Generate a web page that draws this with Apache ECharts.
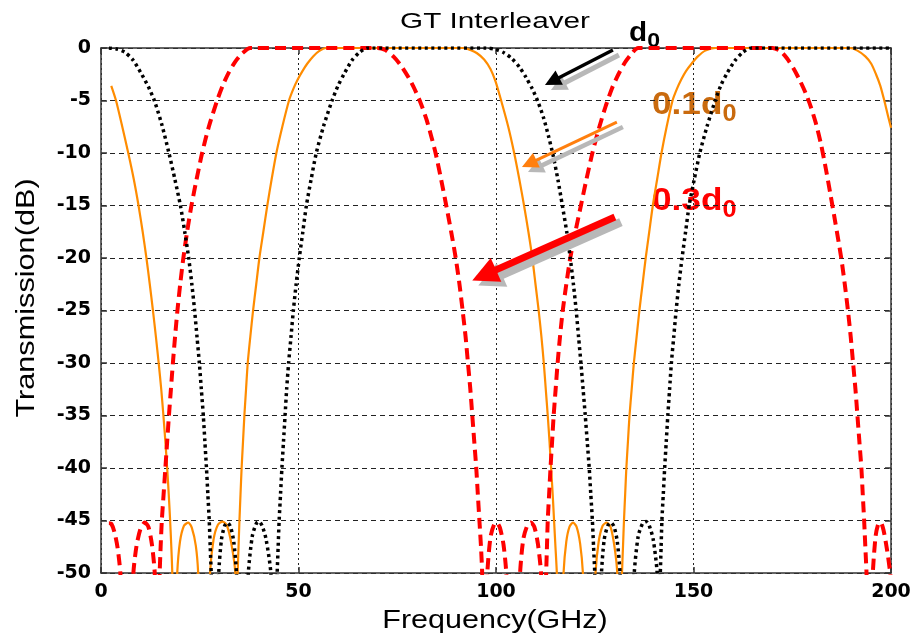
<!DOCTYPE html>
<html><head><meta charset="utf-8">
<script src="https://cdn.jsdelivr.net/npm/echarts@6/dist/echarts.min.js"></script>
<style>html,body{margin:0;padding:0;background:#fff}#c{width:917px;height:642px}</style>
</head><body><div id="c"></div>
<script>
// Frequency (GHz), Transmission (dB). Values below -50 are clipped by the axis.
const d0Data = [[2,0],[4,-0.1],[6,-0.4],[8,-1.1],[10,-2.3],[12,-3.7],[13.5,-5],[15.4,-7.3],[17.2,-10],[18.7,-12.5],[20.1,-15],[21.2,-17.5],[22.2,-20],[23,-22.5],[23.7,-25],[24.3,-27.5],[24.9,-30],[25.4,-32.5],[25.9,-35],[26.3,-37.5],[26.7,-40],[27.05,-42.5],[27.4,-45],[27.65,-47.5],[27.9,-50],[28.3,-56],
[29.3,-56],[29.8,-50],[30.5,-46.8],[31.3,-45.5],[32,-45.2],[32.8,-45.6],[33.6,-47],[34.3,-50],[34.8,-56],
[36.8,-56],[37.3,-50],[38.3,-46.5],[39.3,-45.3],[40,-45.1],[40.8,-45.5],[41.8,-46.8],[43,-50],[43.5,-56],
[44.2,-56],[44.6,-50],[44.85,-47.5],[45.1,-45],[45.45,-42.5],[45.8,-40],[46.2,-37.5],[46.6,-35],[47,-32.5],[47.5,-30],[48.1,-27.5],[48.7,-25],[49.4,-22.5],[50.2,-20],[51.1,-17.5],[52,-15],[53.2,-12.5],[54.5,-10],[56.3,-7.5],[58.5,-5],[60,-3.6],[61.5,-2.5],[63.5,-1.2],[65.5,-0.4],[67.5,0],
[97.5,0],[100,-0.15],[102,-0.45],[104,-1],[106,-1.85],[107.6,-2.8],[109.2,-3.9],[110.6,-5.1],[112,-6.6],[113.3,-8.4],[114.5,-10.3],[115.7,-12.6],[116.8,-15],[117.9,-17.5],[118.8,-20],[119.6,-22.5],[120.3,-25],[120.9,-27.5],[121.5,-30],[122.05,-32.5],[122.6,-35],[123.1,-37.5],[123.6,-40],[124,-42.5],[124.4,-45],[124.7,-47.5],[125,-50],[125.4,-56],
[126.2,-56],[126.7,-50],[127.4,-46.8],[128.3,-45.5],[129.1,-45.2],[129.9,-45.6],[130.7,-47],[131.4,-50],[131.9,-56],
[134.5,-56],[135,-50],[136,-46.5],[137.1,-45.3],[138,-45.1],[138.8,-45.5],[139.8,-46.8],[140.8,-50],[141.2,-56],
[141.6,-50],[141.8,-47.5],[142,-45],[142.35,-42.5],[142.7,-40],[143.1,-37.5],[143.5,-35],[143.95,-32.5],[144.4,-30],[145,-27.5],[145.6,-25],[146.3,-22.5],[147.1,-20],[148,-17.5],[148.9,-15],[150.2,-12.5],[151.6,-10],[153.4,-7.5],[155.5,-5],[157,-3.5],[158.5,-2.4],[160.5,-1.2],[162.5,-0.4],[164.5,0],[200,0]];

const d01Data = [[2.6,-3.6],[3.8,-5],[5.2,-7.2],[6.9,-10],[8.3,-12.5],[9.5,-15],[10.55,-17.5],[11.5,-20],[12.35,-22.5],[13.15,-25],[13.9,-27.5],[14.6,-30],[15.25,-32.5],[15.8,-35],[16.3,-37.5],[16.75,-40],[17.15,-42.5],[17.5,-45],[17.8,-47.5],[18.05,-50],[18.4,-56],
[18.8,-56],[19.3,-50],[20,-47],[21,-45.5],[22.1,-45.2],[23,-45.7],[24,-47.4],[24.6,-50],[25.1,-56],
[27.1,-56],[27.6,-50],[28.5,-46.8],[29.6,-45.4],[30.8,-45.1],[31.9,-45.5],[33,-47.2],[34,-50],[34.3,-56],
[34.6,-50],[34.82,-47.5],[35.05,-45],[35.32,-42.5],[35.6,-40],[35.95,-37.5],[36.3,-35],[36.72,-32.5],[37.15,-30],[37.8,-27.5],[38.5,-25],[39.3,-22.5],[40.1,-20],[41.1,-17.5],[42.1,-15],[43.2,-12.5],[44.4,-10],[45.9,-7.5],[47.6,-5],[48.7,-3.9],[49.8,-3],[51,-2.2],[52.2,-1.5],[53.7,-0.8],[55.2,-0.3],[57,0],
[91.8,0],[93.5,-0.2],[95.2,-0.5],[97,-1.1],[98.6,-2],[99.9,-3.2],[101.3,-5],[103.1,-7.5],[104.6,-10],[105.9,-12.5],[107.1,-15],[108.2,-17.5],[109.2,-20],[110,-22.5],[110.8,-25],[111.5,-27.5],[112.1,-30],[112.6,-32.5],[113.1,-35],[113.55,-37.5],[113.95,-40],[114.35,-42.5],[114.7,-45],[115.05,-47.5],[115.4,-50],[115.8,-56],
[116.6,-56],[117.1,-50],[117.8,-47],[118.6,-45.6],[119.5,-45.2],[120.4,-45.6],[121.3,-47.2],[122,-50],[122.5,-56],
[124.7,-56],[125.2,-50],[126,-47],[127,-45.5],[128,-45.2],[129,-45.6],[130,-47.5],[130.7,-50],[131.2,-56],
[131.5,-56],[131.9,-50],[132.15,-47.5],[132.4,-45],[132.7,-42.5],[133,-40],[133.4,-37.5],[133.8,-35],[134.35,-32.5],[134.9,-30],[135.6,-27.5],[136.3,-25],[137.1,-22.5],[137.9,-20],[138.8,-17.5],[139.7,-15],[140.8,-12.5],[141.9,-10],[143.2,-7.5],[144.7,-5],[145.8,-3.9],[146.9,-3],[148.1,-2.2],[149.5,-1.5],[151.1,-0.8],[153,-0.25],[155.5,0],
[189.5,0],[191.5,-0.25],[193.5,-0.8],[195,-1.5],[196.2,-2.5],[197.3,-3.6],[198.3,-5],[199.2,-6.4],[200,-7.6]];

const d03Data = [[2,-45.25],[2.6,-45.3],[3.4,-46.1],[4.2,-47.6],[4.9,-50],[5.5,-56],
[7.7,-56],[8.2,-50],[9,-47.4],[10,-45.8],[11.1,-45.2],[12,-45.6],[12.9,-47.3],[13.6,-50],[14.05,-56],
[14.4,-56],[14.85,-50],[15.1,-47.5],[15.4,-45],[15.85,-42.5],[16.3,-40],[16.75,-37.5],[17.2,-35],[17.7,-32.5],[18.2,-30],[18.75,-27.5],[19.35,-25],[20.05,-22.5],[20.85,-20],[21.8,-17.5],[22.9,-15],[24.2,-12.5],[25.6,-10],[27.3,-7.5],[29.4,-5],[30.9,-3.5],[32.4,-2.3],[34,-1.3],[35.8,-0.5],[37.8,0],
[70,0],[72,-0.2],[74,-0.8],[76,-1.7],[78,-2.9],[79.5,-4],[81,-5.3],[82.4,-6.8],[83.6,-8.4],[84.7,-10],[86.1,-12.5],[87.4,-15],[88.7,-17.6],[89.8,-20],[90.75,-22.5],[91.55,-25],[92.3,-27.5],[92.9,-30],[93.5,-32.5],[94,-35],[94.5,-37.5],[95,-40],[95.4,-42.5],[95.8,-45],[96.2,-47.5],[96.5,-50],[96.9,-56],
[97.3,-56],[97.8,-50],[98.6,-46.6],[99.5,-45.4],[100.2,-45.2],[101,-45.7],[101.9,-47.3],[102.6,-50],[103.1,-56],
[105.6,-56],[106.1,-50],[106.9,-46.8],[107.9,-45.5],[108.8,-45.2],[109.7,-45.6],[110.6,-47.2],[111.4,-50],[111.9,-56],
[112.3,-56],[112.7,-50],[112.9,-47.5],[113.1,-45],[113.45,-42.5],[113.8,-40],[114.2,-37.5],[114.6,-35],[115.1,-32.5],[115.6,-30],[116.2,-27.5],[116.9,-25],[117.8,-22.5],[118.8,-20],[120.1,-17.5],[121.5,-15],[122.9,-12.5],[124.4,-10],[126.1,-7.6],[127.8,-5.5],[129.4,-3.8],[131,-2.5],[132.6,-1.4],[134.2,-0.6],[136,0],
[170,0],[172,-0.3],[173.7,-1],[175.4,-2],[177,-3.15],[178.4,-4.3],[179.7,-5.6],[181,-7.2],[182.3,-9.2],[183.5,-11.5],[184.7,-14],[185.9,-16.6],[187.4,-20],[188.3,-22.5],[189.1,-25],[189.8,-27.5],[190.4,-30],[191,-32.5],[191.5,-35],[192,-37.5],[192.5,-40],[192.85,-42.5],[193.2,-45],[193.5,-47.5],[193.8,-50],[194.2,-56],
[194.9,-56],[195.4,-50],[196.1,-46.5],[196.8,-45.3],[197.4,-45.2],[198.1,-45.9],[199,-47.8],[199.8,-50],[200,-51]];

// Annotation arrows: [tail, head] in data coordinates
const arrowD0   = [[129.6,-0.19],[114.2,-3.17]];
const arrowD01  = [[130.6,-7.05],[108.4,-11.01]];
const arrowD03  = [[130.1,-16.1],[97.0,-21.63]];
const shadowShift = [1.52,-0.476];

const chart = echarts.init(document.getElementById('c'));
const FONT = '"Liberation Sans", Arial, sans-serif';
const axisCol = '#333';

function arrowML(pts, color, width, size){
  const sh = pts.map(p => [p[0]+shadowShift[0], p[1]+shadowShift[1]]);
  return {
    silent:true, animation:false, symbol:['none','triangle'], symbolSize:size,
    label:{show:false}, emphasis:{disabled:true},
    data:[
      [{coord:sh[0], lineStyle:{color:'#b8b8b8', width:width+1.5, type:'solid'}, itemStyle:{color:'#b8b8b8'}}, {coord:sh[1], itemStyle:{color:'#b8b8b8'}}],
      [{coord:pts[0], lineStyle:{color:color, width:width, type:'solid'}, itemStyle:{color:color}}, {coord:pts[1], itemStyle:{color:color}}]
    ]
  };
}

function sideAxis(extra){
  return Object.assign({
    type:'value', axisLine:{show:true,onZero:false,lineStyle:{color:axisCol,width:1.5}},
    axisTick:{show:true,inside:true,length:6,lineStyle:{color:axisCol,width:1.5}},
    axisLabel:{show:false}, splitLine:{show:false}
  }, extra);
}

const lineCommon = {type:'line',showSymbol:false,symbol:'none',smooth:0.25};

const option = {
  animation:false,
  backgroundColor:'#fff',
  textStyle:{fontFamily:FONT},
  grid:{left:101,right:26,top:48,bottom:69},
  xAxis:[
    {type:'value',min:0,max:200,interval:50,
     axisLine:{show:true,onZero:false,lineStyle:{color:axisCol,width:1.5}},
     axisTick:{show:true,inside:true,length:6,lineStyle:{color:axisCol,width:1.5}},
     axisLabel:{color:'#000',fontSize:19,fontWeight:'bold',fontFamily:'"DejaVu Sans"',margin:10},
     splitLine:{show:true,lineStyle:{color:'#222',width:1,type:[2,3]}}},
    sideAxis({position:'top',min:0,max:200,interval:50})
  ],
  yAxis:[
    {type:'value',min:-50,max:0,interval:5,
     axisLine:{show:true,onZero:false,lineStyle:{color:axisCol,width:1.5}},
     axisTick:{show:true,inside:true,length:6,lineStyle:{color:axisCol,width:1.5}},
     axisLabel:{color:'#000',fontSize:19,fontWeight:'bold',fontFamily:'"DejaVu Sans"',margin:10},
     splitLine:{show:true,lineStyle:{color:'#222',width:1,type:[5,4]}}},
    sideAxis({position:'right',min:-50,max:0,interval:5})
  ],
  series:[
    Object.assign({name:'0.1d0',data:d01Data,lineStyle:{color:'#ff8c00',width:2.2},markLine:arrowML(arrowD01,'#ff7f0e',3,16)}, lineCommon),
    Object.assign({name:'0.3d0',data:d03Data,lineStyle:{color:'#ff0000',width:4,type:[11,6]},markLine:arrowML(arrowD03,'#ff0000',7,26)}, lineCommon),
    Object.assign({name:'d0',data:d0Data,lineStyle:{color:'#000',width:3.5,type:[3,3.5]},markLine:arrowML(arrowD0,'#000',3.5,16)}, lineCommon)
  ],
  graphic:[
    {type:'text',x:495,y:22,scaleX:1.35,style:{text:'GT Interleaver',fill:'#000',font:'22px '+FONT,align:'center',verticalAlign:'middle'}},
    {type:'text',x:495,y:621,scaleX:1.22,style:{text:'Frequency(GHz)',fill:'#000',font:'25px '+FONT,align:'center',verticalAlign:'middle'}},
    {type:'text',x:27,y:298,rotation:Math.PI/2,scaleX:1.18,style:{text:'Transmission(dB)',fill:'#000',font:'26px '+FONT,align:'center',verticalAlign:'middle'}},
    {type:'text',x:629,y:52,scaleX:1.1,style:{text:'{m|d}{s|0}',align:'left',verticalAlign:'bottom',
      rich:{m:{font:'bold 27px '+FONT,fill:'#000',verticalAlign:'bottom',padding:[0,0,5,0]},s:{font:'bold 21px '+FONT,fill:'#000',verticalAlign:'bottom'}}}},
    {type:'text',x:652,y:126,scaleX:1.1,style:{text:'{m|0.1d}{s|0}',align:'left',verticalAlign:'bottom',
      rich:{m:{font:'bold 32px '+FONT,fill:'#c96a0e',verticalAlign:'bottom',padding:[0,0,5,0]},s:{font:'bold 23px '+FONT,fill:'#c96a0e',verticalAlign:'bottom'}}}},
    {type:'text',x:652,y:222,scaleX:1.1,style:{text:'{m|0.3d}{s|0}',align:'left',verticalAlign:'bottom',
      rich:{m:{font:'bold 32px '+FONT,fill:'#ff0000',verticalAlign:'bottom',padding:[0,0,5,0]},s:{font:'bold 23px '+FONT,fill:'#ff0000',verticalAlign:'bottom'}}}}
  ]
};
chart.setOption(option);
</script></body></html>
